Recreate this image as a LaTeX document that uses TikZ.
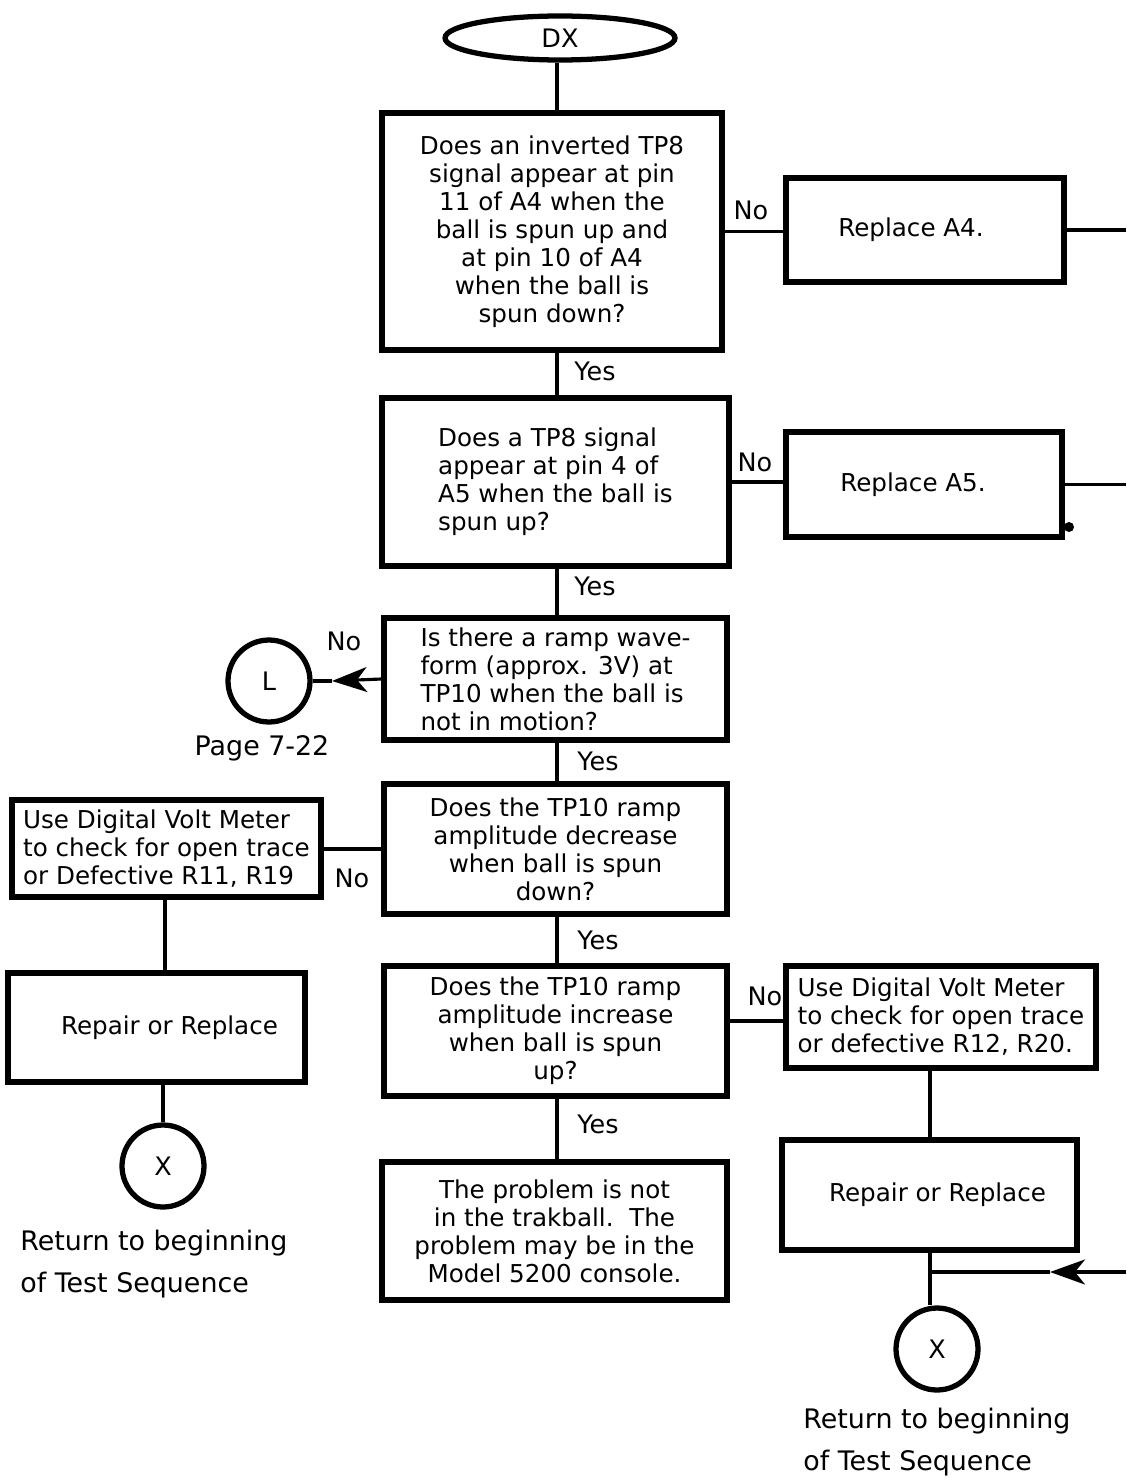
\documentclass[tikz,border=0pt]{standalone}
\usepackage{fontspec}
\setmainfont{DejaVu Sans}
\usetikzlibrary{arrows.meta,shapes.geometric}
\begin{document}
\begin{tikzpicture}[x=0.02cm,y=-0.02cm,
  box/.style={draw, line width=3pt, inner sep=0pt, font=\fontsize{14}{15.9}\selectfont},
  conn/.style={line width=1.8pt},
  lbl/.style={font=\fontsize{14.5}{16}\selectfont, inner sep=1pt},
  circ/.style={draw, circle, line width=3pt, minimum size=1.64cm, inner sep=0pt, font=\fontsize{14.5}{16}\selectfont},
  note/.style={font=\fontsize{15.3}{23.8}\selectfont, align=left, inner sep=0pt},
  tip/.style={-{Stealth[length=0.7cm,width=0.5cm,inset=0.2cm]}}
]
\useasboundingbox (0,0) rectangle (1126,1480);
\coordinate (tx) at (557,0);
\coordinate (lx) at (165,0);
\coordinate (rx) at (930,0);
\coordinate (redge) at (1126,0);
\coordinate (y5) at (0,1021);

\node[ellipse, draw, line width=3pt, minimum width=4.6cm, minimum height=0.88cm, inner sep=0pt, font=\fontsize{14.5}{16}\selectfont] (dx) at (560,38) {DX};

\node[box, minimum width=6.8cm, minimum height=4.74cm, align=center] (b1) at (552,231.5)
  {Does an inverted TP8\\signal appear at pin\\11 of A4 when the\\ball is spun up and\\at pin 10 of A4\\when the ball is\\spun down?};
\node[box, minimum width=5.56cm, minimum height=2.08cm] (a4) at (925,230) {Replace A4.\hspace*{0.56cm}};

\node[box, minimum width=6.94cm, minimum height=3.36cm, align=left] (b2) at (555.5,482)
  {Does a TP8 signal\\appear at pin 4 of\\A5 when the ball is\\spun up?};
\node[box, minimum width=5.52cm, minimum height=2.1cm] (a5) at (924,484.5) {Replace A5.\hspace*{0.44cm}};

\node[box, minimum width=6.86cm, minimum height=2.44cm, align=left] (b3) at (555.5,679)
  {Is there a ramp wave-\\form (approx. 3V) at\\TP10 when the ball is\\not in motion?};
\node[circ] (cL) at (269,681) {L};
\node[note, anchor=center] (pg) at (262,748) {Page 7-22};

\node[box, minimum width=6.86cm, minimum height=2.6cm, align=center] (b4) at (555.5,849)
  {Does the TP10 ramp\\amplitude decrease\\when ball is spun\\down?};
\node[box, minimum width=6.18cm, minimum height=1.94cm, align=left] (d1) at (166.5,848.5)
  {Use Digital Volt Meter\\to check for open trace\\or Defective R11, R19};
\node[box, minimum width=5.94cm, minimum height=2.18cm] (r1) at (156.5,1027.5) {\hspace*{0.52cm}Repair or Replace};
\node[circ] (cx1) at (163,1166) {X};
\node[note, anchor=west] (ret1) at (20,1264) {Return to beginning\\of Test Sequence};

\node[box, minimum width=6.86cm, minimum height=2.6cm, align=center] (b5) at (555.5,1031)
  {Does the TP10 ramp\\amplitude increase\\when ball is spun\\up?};
\node[box, minimum width=6.2cm, minimum height=2.04cm, align=left] (d2) at (941,1017)
  {Use Digital Volt Meter\\to check for open trace\\or defective R12, R20.};
\node[box, minimum width=5.9cm, minimum height=2.2cm] (r2) at (929.5,1195) {\hspace*{0.32cm}Repair or Replace};
\node[circ] (cx2) at (937,1349) {X};
\node[note, anchor=west] (ret2) at (803,1442) {Return to beginning\\of Test Sequence};

\node[box, minimum width=6.9cm, minimum height=2.76cm, align=center] (b6) at (554.5,1231)
  {The problem is not\\in the trakball.\ \ The\\problem may be in the\\Model 5200 console.};

% trunk
\draw[conn] (dx.south -| tx) -- (b1.north -| tx);
\draw[conn] (b1.south -| tx) -- (b2.north -| tx);
\draw[conn] (b2.south -| tx) -- (b3.north -| tx);
\draw[conn] (b3.south -| tx) -- (b4.north -| tx);
\draw[conn] (b4.south -| tx) -- (b5.north -| tx);
\draw[conn] (b5.south -| tx) -- (b6.north -| tx);

% right branches
\draw[conn] (b1.east) -- (b1.east -| a4.west);
\draw[conn] (a4.east) -- (a4.east -| redge);
\draw[conn] (b2.east) -- (b2.east -| a5.west);
\draw[conn] (a5.east) -- (a5.east -| redge);
\fill (1069,527) circle (5);

% L connector
\coordinate (ltip) at (332,681);
\draw[conn, tip] (b3.west) -- (ltip);
\draw[conn] (ltip) -- (cL.east);

% left branch
\draw[conn] (b4.west) -- (b4.west -| d1.east);
\draw[conn] (d1.south -| lx) -- (r1.north -| lx);
\draw[conn] (r1.south -| cx1.north) -- (cx1.north);

% right lower branch
\draw[conn] (b5.east |- y5) -- (d2.west |- y5);
\draw[conn] (d2.south -| rx) -- (r2.north -| rx);
\coordinate (rj) at (930,1272);
\coordinate (re3) at (1126,1272);
\coordinate (atip) at (1050,1272);
\draw[conn] (r2.south -| rx) -- (rx |- cx2.north);
\draw[conn, tip] (re3) -- (atip);
\draw[conn] (atip) -- (rj);

% labels
\node[lbl] (n1) at (751,210) {No};
\node[lbl] (y1) at (595,371) {Yes};
\node[lbl] (n2) at (755,462) {No};
\node[lbl] (y2) at (595,586) {Yes};
\node[lbl] (n3) at (344,641) {No};
\node[lbl] (y3) at (598,761) {Yes};
\node[lbl] (n4) at (352,878) {No};
\node[lbl] (y4) at (598,940) {Yes};
\node[lbl] (n5) at (765,996) {No};
\node[lbl] (y5l) at (598,1124) {Yes};
\end{tikzpicture}
\end{document}
